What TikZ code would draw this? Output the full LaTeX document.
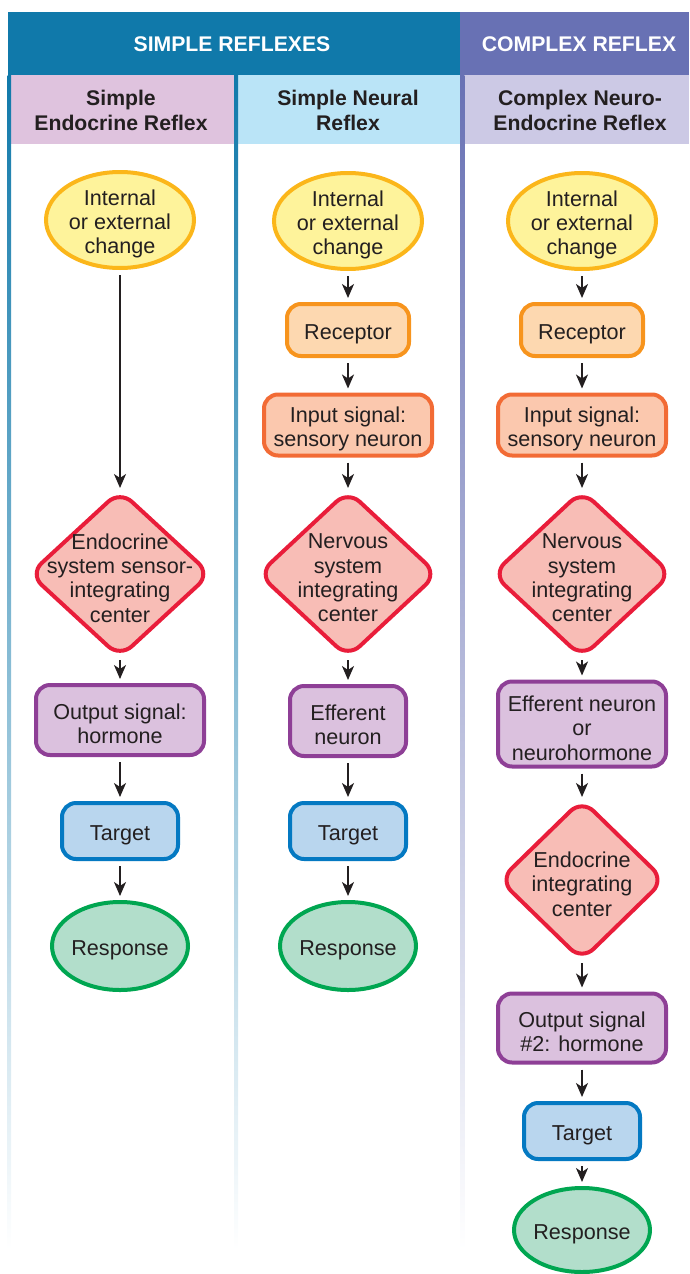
\documentclass[tikz,border=0pt]{standalone}
\usepackage{fontspec}
\setmainfont{Liberation Sans}
\usetikzlibrary{shapes.geometric,arrows.meta}

\definecolor{hdrblue}{HTML}{1079AA}
\definecolor{hdrpurple}{HTML}{6871B4}
\definecolor{subpink}{HTML}{DFC3DE}
\definecolor{subblue}{HTML}{BAE4F7}
\definecolor{sublav}{HTML}{CCC9E5}
\definecolor{ink}{HTML}{231F20}
\definecolor{yelfill}{HTML}{FEF39B}
\definecolor{yeldraw}{HTML}{FBB61A}
\definecolor{recfill}{HTML}{FDD8B0}
\definecolor{recdraw}{HTML}{F7941D}
\definecolor{inpfill}{HTML}{FBC8AE}
\definecolor{inpdraw}{HTML}{F26B35}
\definecolor{redfill}{HTML}{F8BDB6}
\definecolor{reddraw}{HTML}{E91D3A}
\definecolor{purfill}{HTML}{DBC1DE}
\definecolor{purdraw}{HTML}{8E3F96}
\definecolor{tgtfill}{HTML}{B9D6EE}
\definecolor{tgtdraw}{HTML}{0479C2}
\definecolor{resfill}{HTML}{B2DECB}
\definecolor{resdraw}{HTML}{00A651}
\definecolor{linemid}{HTML}{9BBCDC}
\definecolor{purmid}{HTML}{B4B7DC}

\newcommand{\nodefont}{\fontsize{21.6}{24.3}\selectfont}
\newcommand{\headfont}{\fontsize{21.2}{25}\selectfont\bfseries}

\begin{document}
\begin{tikzpicture}[x=1pt,y=-1pt,
  mid/.style={font=\nodefont, text=ink, align=center, inner sep=0pt},
  ctext/.style={label={[mid, yshift=-4pt]center:#1}},
  box/.style={draw, rectangle, rounded corners=14pt, line width=4pt,
    inner sep=0pt},
  oval/.style={draw, ellipse, line width=4pt, inner sep=0pt},
  diam/.style={draw, diamond, line width=4pt, rounded corners=16pt,
    inner sep=0pt, fill=redfill, draw=reddraw},
  change/.style={oval, fill=yelfill, draw=yeldraw,
    minimum width=148pt, minimum height=96pt},
  receptor/.style={box, fill=recfill, draw=recdraw,
    minimum width=122pt, minimum height=52pt},
  input/.style={box, fill=inpfill, draw=inpdraw,
    minimum width=168pt, minimum height=61pt},
  signal/.style={box, fill=purfill, draw=purdraw},
  target/.style={box, fill=tgtfill, draw=tgtdraw,
    minimum width=116pt, minimum height=56pt},
  response/.style={oval, fill=resfill, draw=resdraw,
    minimum width=136pt, minimum height=88pt},
  arr/.style={-{Stealth[length=14pt,width=12pt,inset=4pt]}, line width=1.9pt,
    draw=ink, shorten <=5pt, shorten >=4pt},
  hdr/.style={font=\headfont, text=white, align=center, inner sep=0pt},
  subhdr/.style={font=\headfont, text=ink, align=center, inner sep=0pt}
]
\useasboundingbox (0,0) rectangle (689,1274);

% header bands
\fill[hdrblue] (8,12) rectangle (460,75);
\fill[hdrpurple] (460,12) rectangle (689,75);
\fill[subpink] (11,75) rectangle (233.5,144);
\fill[subblue] (238,75) rectangle (460,144);
\fill[sublav] (464.5,75) rectangle (689,144);

% column rules fading downward
\shade[top color=hdrblue, middle color=linemid, bottom color=white]
  (7.5,75) rectangle (11,1250);
\shade[top color=hdrblue, middle color=linemid, bottom color=white]
  (234,75) rectangle (238,1250);
\shade[top color=hdrpurple, middle color=purmid, bottom color=white]
  (460,75) rectangle (464.5,1250);

\node[hdr] (hsimple) at (232,44) {SIMPLE REFLEXES};
\node[hdr] (hcomplex) at (579,44) {COMPLEX REFLEX};
\node[subhdr] (s1) at (121,110) {Simple\\Endocrine Reflex};
\node[subhdr] (s2) at (348,110) {Simple Neural\\Reflex};
\node[subhdr] (s3) at (580,110) {Complex Neuro-\\Endocrine Reflex};

% simple endocrine reflex
\node[change, ctext={Internal\\or external\\change}] (e1) at (120,220) {};
\node[diam, minimum width=182pt, minimum height=168pt,
  ctext={Endocrine\\system sensor-\\integrating\\center}] (d1) at (120,574) {};
\node[signal, minimum width=168pt, minimum height=70pt,
  ctext={Output signal:\\hormone}] (o1) at (120,720) {};
\node[target, ctext={Target}] (t1) at (120,831) {};
\node[response, ctext={Response}] (r1) at (120,946) {};

\draw[arr, shorten >=0pt] (e1) -- (d1);
\draw[arr, shorten <=0pt] (d1) -- (o1);
\draw[arr] (o1) -- (t1);
\draw[arr] (t1) -- (r1);

% simple neural reflex
\node[change, ctext={Internal\\or external\\change}] (e2) at (348,221) {};
\node[receptor, ctext={Receptor}] (c2) at (348,330) {};
\node[input, ctext={Input signal:\\sensory neuron}] (i2) at (348,425) {};
\node[diam, minimum width=180pt, minimum height=168pt,
  ctext={Nervous\\system\\integrating\\center}] (d2) at (348,574) {};
\node[signal, minimum width=116pt, minimum height=70pt,
  ctext={Efferent\\neuron}] (f2) at (348,721) {};
\node[target, ctext={Target}] (t2) at (348,831) {};
\node[response, ctext={Response}] (r2) at (348,946) {};

\draw[arr] (e2) -- (c2);
\draw[arr] (c2) -- (i2);
\draw[arr, shorten >=0pt] (i2) -- (d2);
\draw[arr, shorten <=0pt] (d2) -- (f2);
\draw[arr] (f2) -- (t2);
\draw[arr] (t2) -- (r2);

% complex neuro-endocrine reflex
\node[change, ctext={Internal\\or external\\change}] (e3) at (582,221) {};
\node[receptor, ctext={Receptor}] (c3) at (582,330) {};
\node[input, ctext={Input signal:\\sensory neuron}] (i3) at (582,425) {};
\node[diam, minimum width=180pt, minimum height=168pt,
  ctext={Nervous\\system\\integrating\\center}] (d3) at (582,574) {};
\node[signal, minimum width=168pt, minimum height=85pt,
  ctext={Efferent neuron\\or\\neurohormone}] (f3) at (582,724) {};
\node[diam, minimum width=166pt, minimum height=162pt,
  ctext={Endocrine\\integrating\\center}] (d4) at (582,880) {};
\node[signal, minimum width=168pt, minimum height=69pt,
  ctext={Output signal\\\#2: hormone}] (o3) at (582,1028) {};
\node[target, ctext={Target}] (t3) at (582,1131) {};
\node[response, minimum height=84pt, ctext={Response}] (r3) at (582,1230) {};

\draw[arr] (e3) -- (c3);
\draw[arr] (c3) -- (i3);
\draw[arr, shorten >=0pt] (i3) -- (d3);
\draw[arr, shorten <=0pt] (d3) -- (f3);
\draw[arr, shorten >=0pt] (f3) -- (d4);
\draw[arr, shorten <=0pt] (d4) -- (o3);
\draw[arr] (o3) -- (t3);
\draw[arr] (t3) -- (r3);
\end{tikzpicture}
\end{document}
